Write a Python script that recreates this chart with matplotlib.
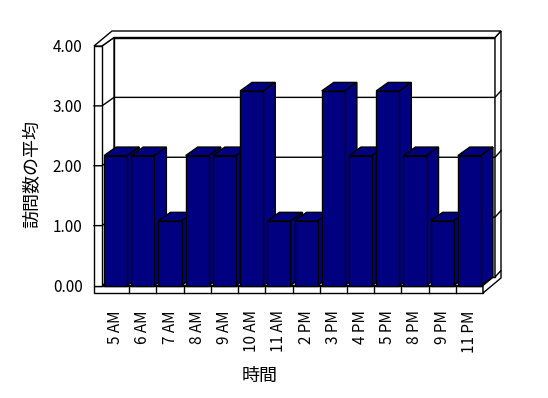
"""
時間帯ごとの訪問数の平均 (Excel風の3D縦棒グラフ)
"""

import matplotlib
matplotlib.use("Agg")
import matplotlib.pyplot as plt
from matplotlib.patches import Polygon

plt.rcParams['font.family'] = ['Noto Sans CJK JP', 'DejaVu Sans']

# データ
hours = ['5 AM', '6 AM', '7 AM', '8 AM', '9 AM', '10 AM', '11 AM',
         '2 PM', '3 PM', '4 PM', '5 PM', '8 PM', '9 PM', '11 PM']
avg_visits = [2.17, 2.17, 1.08, 2.17, 2.17, 3.25, 1.08,
              1.08, 3.25, 2.17, 3.25, 2.17, 1.08, 2.17]
y_ticks = [0, 1, 2, 3, 4]
y_tick_labels = ['0.00', '1.00', '2.00', '3.00', '4.00']

NAVY = '#000080'
W, H = 548, 398

# 奥行き (データ単位)
px_x = 381 / len(hours)   # 1カテゴリあたりのピクセル
px_y = 239.5 / 4          # 1.0あたりのピクセル
ddx, ddy = 12 / px_x, 8.5 / px_y     # 奥行き
tx, ty = 6 / px_x, 6.5 / px_y        # 壁の厚み(後ろ)
lw_wall = 8 / px_x                   # 左壁の厚み
ft = 7.5 / px_y                      # 床の厚み
x0, x1 = -0.5, len(hours) - 0.5
ymax = 4

fig = plt.figure(figsize=(W / 100, H / 100), dpi=100)
ax = fig.add_axes([102 / W, (H - 285.5) / H, 381 / W, 239.5 / H])
ax.set_xlim(x0, x1)
ax.set_ylim(0, ymax)
for s in ax.spines.values():
    s.set_visible(False)
ax.patch.set_visible(False)


def poly(pts, z=1, fc='white'):
    p = Polygon(pts, closed=True, facecolor=fc, edgecolor='black',
                linewidth=1, zorder=z, clip_on=False)
    ax.add_patch(p)


# 床 (上面・前面・右側面)
poly([(x0, 0), (x1, 0), (x1 + ddx + tx, ddy + ty), (x0 + ddx, ddy + ty)])
poly([(x0 - lw_wall, 0), (x1, 0), (x1, -ft), (x0 - lw_wall, -ft)])
poly([(x1, 0), (x1, -ft), (x1 + ddx + tx, ddy + ty - ft), (x1 + ddx + tx, ddy + ty)])
for i in range(len(hours) - 1):
    ax.plot([i + 0.5, i + 0.5], [0, -ft], color='black', lw=1, zorder=1.2, clip_on=False)

# 後ろの壁
poly([(x0 + ddx, ddy), (x1 + ddx, ddy), (x1 + ddx, ymax + ddy), (x0 + ddx, ymax + ddy)])
poly([(x1 + ddx, ddy), (x1 + ddx + tx, ddy + ty), (x1 + ddx + tx, ymax + ddy + ty),
      (x1 + ddx, ymax + ddy)])
# 左の壁 (内側の面と前面)
poly([(x0, 0), (x0 + ddx, ddy), (x0 + ddx, ymax + ddy), (x0, ymax)])
poly([(x0 - lw_wall, 0), (x0, 0), (x0, ymax), (x0 - lw_wall, ymax)])
# 壁の上面
poly([(x0 - lw_wall, ymax), (x0, ymax), (x0 + ddx, ymax + ddy), (x1 + ddx, ymax + ddy),
      (x1 + ddx + tx, ymax + ddy + ty), (x0 - lw_wall + ddx + tx, ymax + ddy + ty)])

# 目盛線
for v in y_ticks[1:-1]:
    ax.plot([x0 - lw_wall, x0, x0 + ddx, x1 + ddx, x1 + ddx + tx],
            [v, v, v + ddy, v + ddy, v + ddy + ty],
            color='black', lw=1, zorder=1.5, clip_on=False)

# 棒
xs = list(range(len(hours)))
bw = 0.85
bars = ax.bar(xs, avg_visits, width=bw, color=NAVY, edgecolor='black', linewidth=1)
for i, (b, v) in enumerate(zip(bars, avg_visits)):
    z = 3 + i * 0.1
    l, r = i - bw / 2, i + bw / 2
    poly([(l, v), (r, v), (r + ddx, v + ddy), (l + ddx, v + ddy)], z=z, fc=NAVY)
    poly([(r, 0), (r, v), (r + ddx, v + ddy), (r + ddx, ddy)], z=z, fc=NAVY)
    b.set_zorder(z + 0.05)
    b.set_clip_on(False)

# 軸ラベル・目盛
ax.set_yticks(y_ticks)
ax.set_yticklabels(y_tick_labels, fontsize=11)
ax.set_xticks(xs)
ax.set_xticklabels(hours, rotation=90, fontsize=11)
ax.tick_params(axis='y', length=0, pad=14)
ax.tick_params(axis='x', length=0, pad=18)

ax.set_ylabel('訪問数の平均', fontsize=13)
ax.yaxis.set_label_coords(-0.16, 0.466)
ax.set_xlabel('時間', fontsize=13)
ax.xaxis.set_label_coords(0.413, -0.34)

fig.savefig('out.png', dpi=100, facecolor='white')
